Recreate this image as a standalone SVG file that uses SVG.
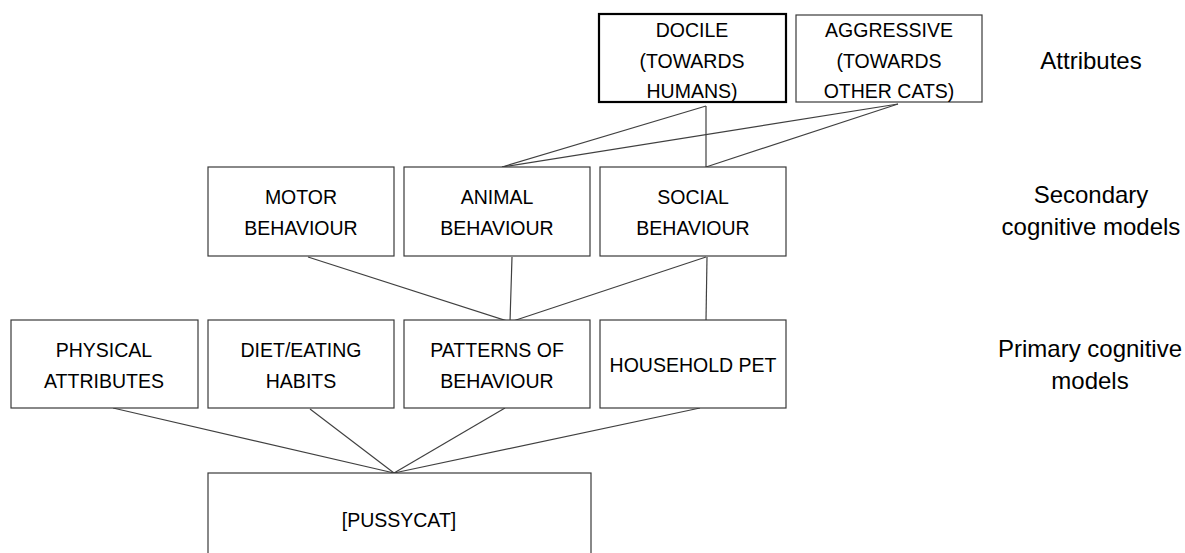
<svg xmlns="http://www.w3.org/2000/svg" width="1185" height="553" viewBox="0 0 1185 553">
<style>
.box{fill:#fff;stroke:#3a3a3a;stroke-width:1.2}
.thick{stroke:#000;stroke-width:2.2}
.t{font-family:"Liberation Sans",Arial,sans-serif;font-size:19.5px;fill:#000;text-anchor:middle}
.lbl{font-family:"Liberation Sans",Arial,sans-serif;font-size:24px;fill:#000;text-anchor:middle}
.c line{stroke:#404040;stroke-width:1.2}
</style>
<rect width="1185" height="553" fill="#fff"/>
<g class="c" id="connectors">
<line x1="706" y1="106" x2="502" y2="167"/>
<line x1="706" y1="106" x2="706" y2="167"/>
<line x1="898" y1="104" x2="502" y2="167"/>
<line x1="898" y1="104" x2="706" y2="167"/>
<line x1="308" y1="257" x2="510" y2="322"/>
<line x1="512" y1="257" x2="510" y2="322"/>
<line x1="706" y1="257" x2="510" y2="322"/>
<line x1="707" y1="257" x2="706" y2="320"/>
<line x1="113" y1="408" x2="394" y2="473"/>
<line x1="310" y1="409" x2="394" y2="473"/>
<line x1="505" y1="408" x2="394" y2="473"/>
<line x1="700" y1="408" x2="394" y2="473"/>
</g>
<g id="docile"><rect class="box thick" x="599" y="14" width="187" height="88"/>
<text class="t" x="692" y="37">DOCILE</text><text class="t" x="692" y="68">(TOWARDS</text><text class="t" x="692" y="98">HUMANS)</text></g>
<g id="aggressive"><rect class="box" x="796" y="15" width="186" height="87"/>
<text class="t" x="889" y="37">AGGRESSIVE</text><text class="t" x="889" y="68">(TOWARDS</text><text class="t" x="889" y="98">OTHER CATS)</text></g>
<g id="motor"><rect class="box" x="208" y="167" width="186" height="89"/>
<text class="t" x="301" y="204">MOTOR</text><text class="t" x="301" y="235">BEHAVIOUR</text></g>
<g id="animal"><rect class="box" x="404" y="167" width="186" height="89"/>
<text class="t" x="497" y="204">ANIMAL</text><text class="t" x="497" y="235">BEHAVIOUR</text></g>
<g id="social"><rect class="box" x="600" y="167" width="186" height="89"/>
<text class="t" x="693" y="204">SOCIAL</text><text class="t" x="693" y="235">BEHAVIOUR</text></g>
<g id="physical"><rect class="box" x="11" y="320" width="187" height="88"/>
<text class="t" x="104" y="357">PHYSICAL</text><text class="t" x="104" y="388">ATTRIBUTES</text></g>
<g id="diet"><rect class="box" x="208" y="320" width="186" height="88"/>
<text class="t" x="301" y="357">DIET/EATING</text><text class="t" x="301" y="388">HABITS</text></g>
<g id="patterns"><rect class="box" x="404" y="320" width="186" height="88"/>
<text class="t" x="497" y="357">PATTERNS OF</text><text class="t" x="497" y="388">BEHAVIOUR</text></g>
<g id="household"><rect class="box" x="600" y="320" width="186" height="88"/>
<text class="t" x="693" y="372">HOUSEHOLD PET</text></g>
<g id="pussycat"><rect class="box" x="208" y="473" width="383" height="100"/>
<text class="t" x="399" y="527">[PUSSYCAT]</text></g>
<g id="labels">
<text class="lbl" x="1091" y="69">Attributes</text>
<text class="lbl" x="1091" y="203">Secondary</text>
<text class="lbl" x="1091" y="235">cognitive models</text>
<text class="lbl" x="1090" y="357">Primary cognitive</text>
<text class="lbl" x="1090" y="389">models</text>
</g>
</svg>
